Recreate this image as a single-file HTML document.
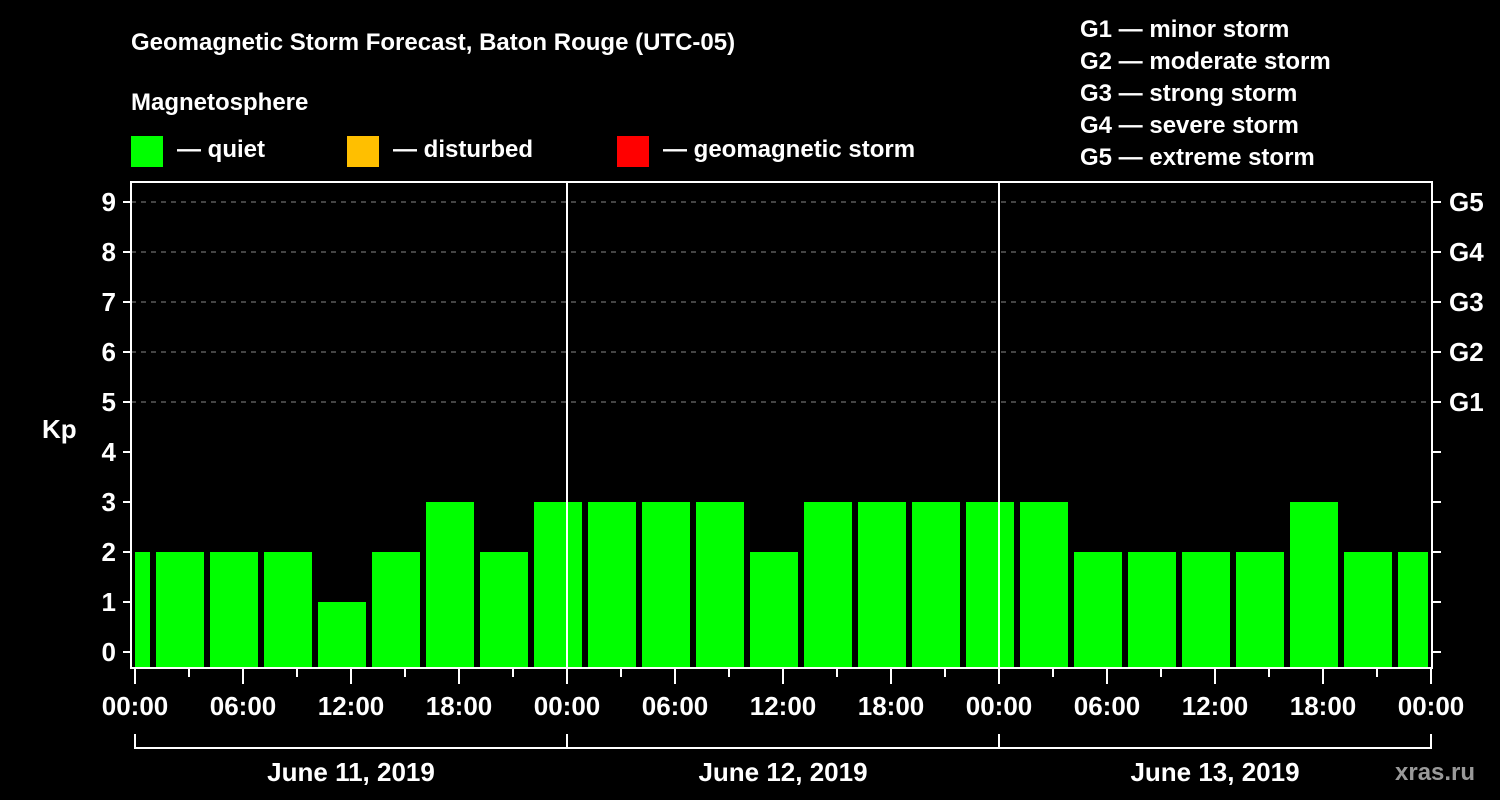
<!DOCTYPE html>
<html><head><meta charset="utf-8"><style>
html,body{margin:0;padding:0;background:#000;}
svg{display:block;font-family:"Liberation Sans",Arial,sans-serif;font-weight:bold;}
</style></head><body>
<svg id="chart" width="1500" height="800" viewBox="0 0 1500 800">
<rect width="1500" height="800" fill="#000"/>
<text x="131" y="50" fill="#fff" font-size="24">Geomagnetic Storm Forecast, Baton Rouge (UTC-05)</text>
<text x="131" y="110" fill="#fff" font-size="24">Magnetosphere</text>
<g><rect x="131" y="136" width="32" height="31" fill="#00ff00"/><text x="177" y="157" fill="#fff" font-size="24">— quiet</text></g>
<g><rect x="347" y="136" width="32" height="31" fill="#ffbf00"/><text x="393" y="157" fill="#fff" font-size="24">— disturbed</text></g>
<g><rect x="617" y="136" width="32" height="31" fill="#ff0000"/><text x="663" y="157" fill="#fff" font-size="24">— geomagnetic storm</text></g>
<g fill="#fff" font-size="24">
<text x="1080" y="37">G1 — minor storm</text>
<text x="1080" y="69">G2 — moderate storm</text>
<text x="1080" y="101">G3 — strong storm</text>
<text x="1080" y="133">G4 — severe storm</text>
<text x="1080" y="165">G5 — extreme storm</text>
</g>
<text x="42" y="438" fill="#fff" font-size="26">Kp</text>
<text x="1395" y="780" fill="#9a9a9a" font-size="24">xras.ru</text>
<g id="grid"></g>
<g id="bars"></g>
<g id="axes"></g>
</svg>
<script>
const kpValues = [2,2,2,2,1,2,3,2,3,3,3,3,2,3,3,3,3,3,2,2,2,2,3,2,2];
const barHours = [-0.5,2.5,5.5,8.5,11.5,14.5,17.5,20.5,23.5,26.5,29.5,32.5,35.5,38.5,41.5,44.5,47.5,50.5,53.5,56.5,59.5,62.5,65.5,68.5,71.5];
const xTickLabels = ["00:00","06:00","12:00","18:00","00:00","06:00","12:00","18:00","00:00","06:00","12:00","18:00","00:00"];
const yTickLabels = ["0","1","2","3","4","5","6","7","8","9"];
const gLabels = ["G1","G2","G3","G4","G5"];
const dayLabels = ["June 11, 2019","June 12, 2019","June 13, 2019"];

const NS="http://www.w3.org/2000/svg";
const X0=135, PX_PER_H=18, Y0=652, PX_PER_KP=50;
const plotL=131, plotR=1432, plotT=182, plotB=668;
const xs=h=>X0+h*PX_PER_H;
const ys=v=>Y0-v*PX_PER_KP;
function mk(tag,attrs,parent){const e=document.createElementNS(NS,tag);for(const k in attrs)e.setAttribute(k,attrs[k]);parent.appendChild(e);return e;}
const grid=document.getElementById('grid'), bars=document.getElementById('bars'), axes=document.getElementById('axes');

for(let v=5;v<=9;v++){
  const l=mk('line',{x1:plotL,x2:plotR,y1:ys(v),y2:ys(v),stroke:'#888','stroke-dasharray':'5,5','stroke-width':1},grid);
  
  
}
const bw=48, clipL=135, clipR=1428;
kpValues.forEach((v,i)=>{
  let x1=xs(barHours[i])-bw/2, x2=xs(barHours[i])+bw/2;
  x1=Math.max(x1,clipL); x2=Math.min(x2,clipR);
  const color=v>=5?'#ff0000':(v>=4?'#ffbf00':'#00ff00');
  const r=mk('rect',{x:x1,y:ys(v),width:x2-x1,height:plotB-1-ys(v),fill:color},bars);
  
  
});
// day separators
[24,48].forEach(h=>{
  const l=mk('line',{x1:xs(h),x2:xs(h),y1:plotT,y2:plotB,stroke:'#fff','stroke-width':2},axes);
  
  
});
const frame=mk('rect',{x:plotL,y:plotT,width:plotR-plotL,height:plotB-plotT,fill:'none',stroke:'#fff','stroke-width':2},axes);


yTickLabels.forEach((t,i)=>{
  mk('line',{x1:123,x2:plotL,y1:ys(i),y2:ys(i),stroke:'#fff','stroke-width':2},axes);
  mk('line',{x1:plotR,x2:1441,y1:ys(i),y2:ys(i),stroke:'#fff','stroke-width':2},axes);
  const tx=mk('text',{x:116,y:ys(i)+9,fill:'#fff','font-size':26,'text-anchor':'end'},axes);
  tx.textContent=t;
  
  
});
gLabels.forEach((t,i)=>{
  const tx=mk('text',{x:1449,y:ys(i+5)+9,fill:'#fff','font-size':26},axes);
  tx.textContent=t;
  
  
});
for(let h=0;h<=72;h+=3){
  const major=h%6===0;
  mk('line',{x1:xs(h),x2:xs(h),y1:plotB,y2:plotB+(major?16:9),stroke:'#fff','stroke-width':2},axes);
}
xTickLabels.forEach((t,i)=>{
  const tx=mk('text',{x:xs(i*6),y:715,fill:'#fff','font-size':26,'text-anchor':'middle'},axes);
  tx.textContent=t;
  
  
});
mk('line',{x1:xs(0),x2:xs(72),y1:748,y2:748,stroke:'#fff','stroke-width':2},axes);
for(let d=0;d<=3;d++) mk('line',{x1:xs(d*24),x2:xs(d*24),y1:734,y2:749,stroke:'#fff','stroke-width':2},axes);
dayLabels.forEach((t,i)=>{
  const tx=mk('text',{x:xs(i*24+12),y:781,fill:'#fff','font-size':26,'text-anchor':'middle'},axes);
  tx.textContent=t;
  
  
});
</script>
</body></html>
